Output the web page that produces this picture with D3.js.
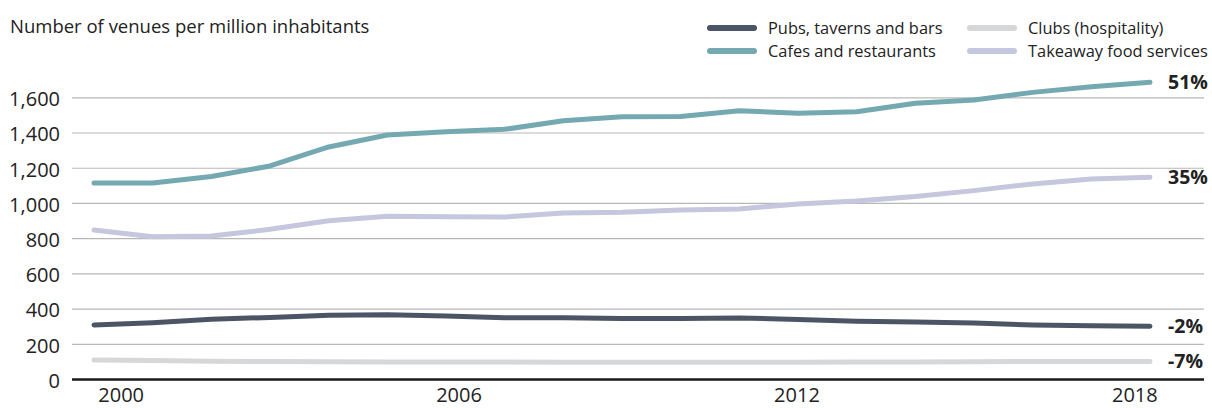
<!DOCTYPE html>
<html>
<head>
<meta charset="utf-8">
<script src="https://cdn.jsdelivr.net/npm/d3@7"></script>
<style>
  body { margin: 0; background: #fff; }
  text { font-family: "Open Sans", sans-serif; fill: #222; }
</style>
</head>
<body>
<div id="chart"></div>
<script>
const years = d3.range(2000, 2019);
const tickYears = [2000, 2006, 2012, 2018];
const yTicks = [0, 200, 400, 600, 800, 1000, 1200, 1400, 1600];

const pubs = [307, 320, 339, 350, 362, 365, 358, 348, 348, 344, 343, 347, 338, 328, 324, 318, 307, 302, 300];
const cafes = [1113, 1113, 1150, 1210, 1318, 1386, 1405, 1418, 1467, 1490, 1491, 1524, 1509, 1518, 1566, 1585, 1628, 1660, 1685];
const clubs = [108, 105, 101, 99, 98, 97, 97, 96, 95, 95, 95, 95, 95, 96, 97, 98, 99, 100, 100];
const takeaway = [846, 808, 812, 850, 899, 925, 922, 920, 943, 947, 960, 966, 994, 1011, 1036, 1070, 1108, 1136, 1146];

const seriesNames = ["Pubs, taverns and bars", "Cafes and restaurants", "Clubs (hospitality)", "Takeaway food services"];
const seriesValues = [pubs, cafes, clubs, takeaway];
const seriesColors = ["#4b5566", "#74a9b1", "#d6d7d9", "#c4c7dd"];
const changeLabels = ["-2%", "51%", "-7%", "35%"];

const W = 1212, H = 408;
const svg = d3.select('#chart').append('svg')
    .attr('width', W)
    .attr('height', H);

const x = d3.scalePoint().domain(years).range([94, 1150]);
const xBand = d3.scaleBand().domain(years).range([93, 1163]);
const y = d3.scaleLinear().domain([0, 1600]).range([379, 97.3]);

// titre
svg.append('text')
    .attr('x', 10)
    .attr('y', 33)
    .style('font-size', '18.5px')
    .text('Number of venues per million inhabitants');

// grille + axe Y
const yAxis = svg.append('g')
    .attr('transform', 'translate(72,0)')
    .call(d3.axisLeft(y)
        .tickValues(yTicks)
        .tickSize(-1132)
        .tickPadding(12)
        .tickFormat(d3.format(',')));
yAxis.select('.domain').remove();
yAxis.selectAll('.tick line')
    .attr('stroke', d => d === 0 ? '#1a1a1a' : '#b8b8b8')
    .attr('stroke-width', d => d === 0 ? 2.5 : 1.2);
yAxis.selectAll('.tick text')
    .attr('dy', '0.42em')
    .style('font-size', '20px')
    .style('fill', '#222');

// axe X
const xAxis = svg.append('g')
    .attr('transform', 'translate(0,380)')
    .call(d3.axisBottom(xBand)
        .tickValues(tickYears)
        .tickSize(0)
        .tickPadding(8));
xAxis.select('.domain').remove();
xAxis.selectAll('.tick text')
    .style('font-size', '20px')
    .style('fill', '#222');

const line = d3.line()
    .x((d, i) => x(years[i]))
    .y(d => y(d));

// ordre de dessin : clubs, takeaway, pubs, cafes
[2, 3, 0, 1].forEach(k => {
    svg.append('path')
        .datum(seriesValues[k])
        .attr('fill', 'none')
        .attr('stroke', seriesColors[k])
        .attr('stroke-width', 5)
        .attr('stroke-linecap', 'round')
        .attr('stroke-linejoin', 'round')
        .attr('d', line);

    svg.append('text')
        .attr('x', 1168)
        .attr('y', y(seriesValues[k][seriesValues[k].length - 1]))
        .attr('dy', '0.36em')
        .style('font-size', '19.5px')
        .style('font-weight', 'bold')
        .text(changeLabels[k]);
});

// légende
const legendPos = [[707, 28], [707, 51], [967, 28], [967, 51]];
seriesNames.forEach((name, k) => {
    const [lx, ly] = legendPos[k];
    svg.append('line')
        .attr('x1', lx + 3).attr('x2', lx + 47)
        .attr('y1', ly).attr('y2', ly)
        .attr('stroke', seriesColors[k])
        .attr('stroke-width', 6)
        .attr('stroke-linecap', 'round');
    svg.append('text')
        .attr('x', lx + 61)
        .attr('y', ly)
        .attr('dy', '0.35em')
        .style('font-size', '16.4px')
        .text(name);
});
</script>
</body>
</html>
